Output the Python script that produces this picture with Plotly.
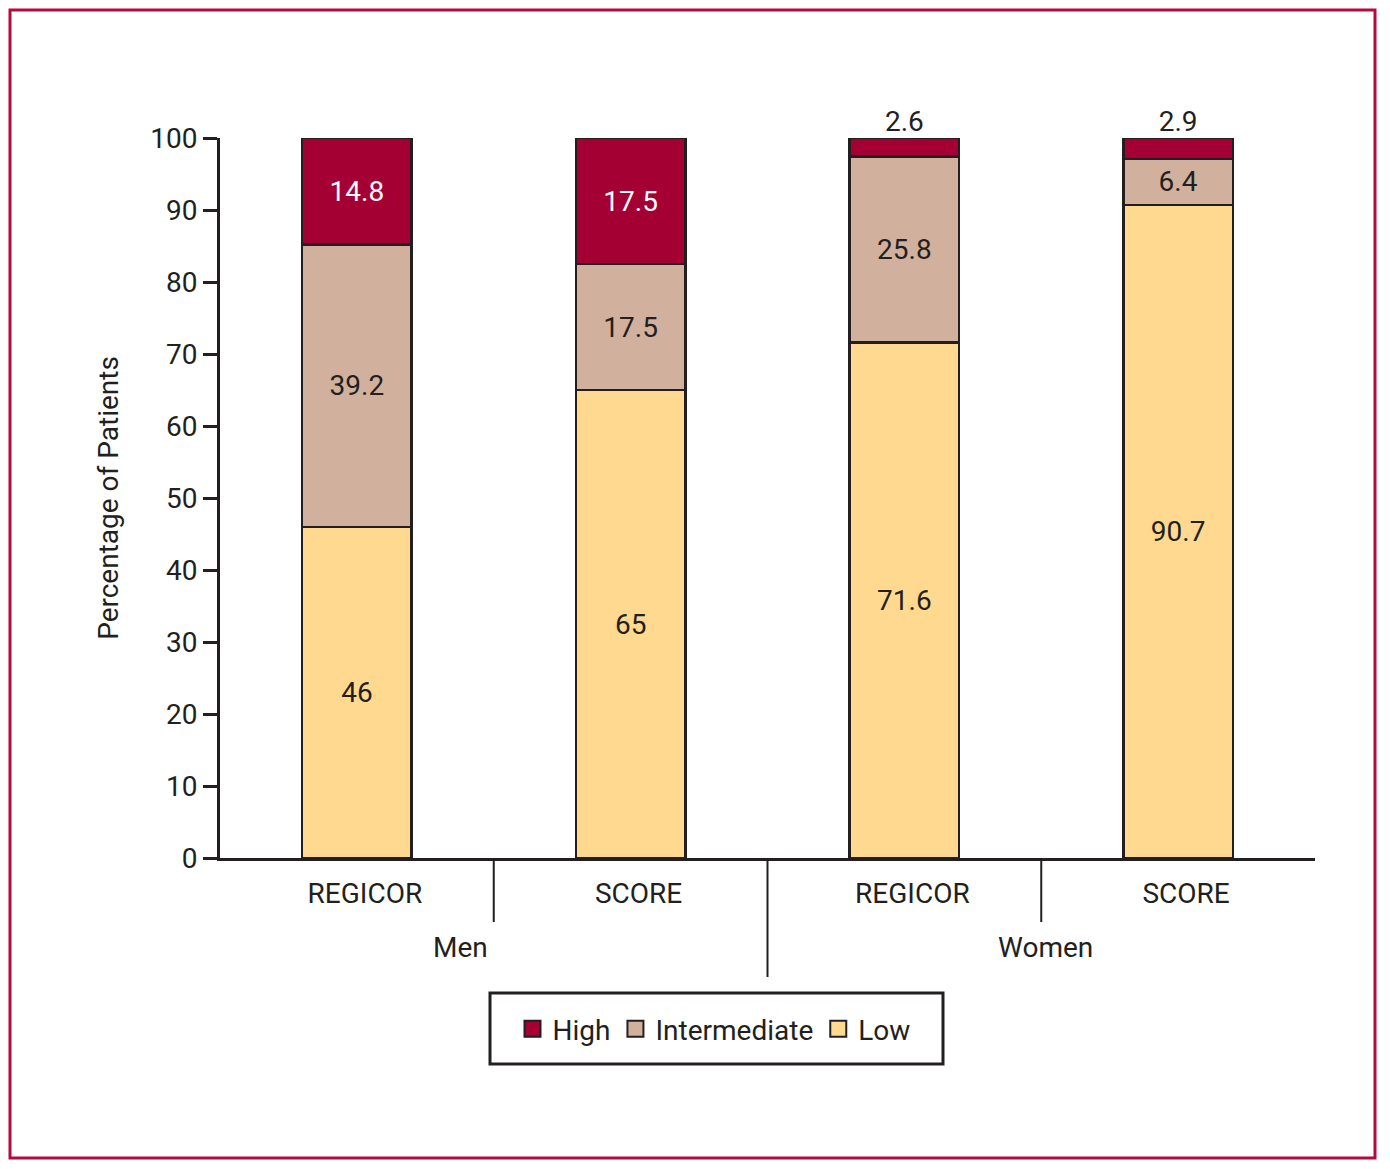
import plotly.graph_objects as go

methods = ["REGICOR", "SCORE", "REGICOR", "SCORE"]
groups = ["Men", "Women"]
low = [46, 65, 71.6, 90.7]
intermediate = [39.2, 17.5, 25.8, 6.4]
high = [14.8, 17.5, 2.6, 2.9]
y_ticks = [0, 10, 20, 30, 40, 50, 60, 70, 80, 90, 100]

FONT = "Roboto, sans-serif"
C_HIGH = "#A50034"
C_INT = "#D1B19D"
C_LOW = "#FFD98F"
EDGE = "#231F20"
TXT = "#231F20"

OFF = 8  # page body margin
W, H = 1390 - OFF, 1169 - OFF
# plot area in page pixels: x 220..1315, y 138..858
L = 220 - OFF
T = 138 - OFF
R = W - (1315 - OFF)
B = H - (858 - OFF)
pw, ph = W - L - R, H - T - B

def px_x(p):  # page px -> paper x
    return (p - OFF - L) / pw

def px_y(p):  # page px -> paper y
    return (H - B - (p - OFF)) / ph

xpos = list(range(len(methods)))
SMALL = 5

fig = go.Figure()
common = dict(width=0.4, marker_line_color=EDGE, marker_line_width=2.5,
              showlegend=False, insidetextanchor="middle", cliponaxis=False,
              constraintext="none", hoverinfo="y")
fig.add_trace(go.Bar(x=xpos, y=low, marker_color=C_LOW, name="Low",
                     text=[f"{v:g}" for v in low], textposition="inside",
                     textfont=dict(family=FONT, size=28, color=TXT), **common))
fig.add_trace(go.Bar(x=xpos, y=intermediate, marker_color=C_INT, name="Intermediate",
                     text=[f"{v:g}" for v in intermediate], textposition="inside",
                     textfont=dict(family=FONT, size=28, color=TXT), **common))
fig.add_trace(go.Bar(x=xpos, y=high, marker_color=C_HIGH, name="High",
                     text=[f"{v:g}" if v > SMALL else "" for v in high],
                     textposition="inside",
                     textfont=dict(family=FONT, size=28, color="white"),
                     **common))
# labels above thin top segments
tops = [round(a + b + c, 6) for a, b, c in zip(low, intermediate, high)]
fig.add_trace(go.Scatter(
    x=[x for x, v in zip(xpos, high) if v <= SMALL],
    y=[t for t, v in zip(tops, high) if v <= SMALL],
    text=[f"{v:g}" for v in high if v <= SMALL],
    mode="text", textposition="top center", showlegend=False, cliponaxis=False,
    textfont=dict(family=FONT, size=28, color=TXT), hoverinfo="skip"))

for nm, col in [("High", C_HIGH), ("Intermediate", C_INT), ("Low", C_LOW)]:
    fig.add_trace(go.Scatter(x=[None], y=[None], mode="markers", name=nm,
                             marker=dict(symbol="square", size=22, color=col,
                                         line=dict(color=EDGE, width=2))))

shapes = []
# category dividers
for xv, y1 in [(0.5, 922), (1.5, 977), (2.5, 922)]:
    shapes.append(dict(type="line", xref="x", yref="paper", x0=xv, x1=xv,
                       y0=0, y1=px_y(y1), line=dict(color=EDGE, width=2)))
# outer crimson frame
shapes.append(dict(type="rect", xref="paper", yref="paper",
                   x0=px_x(10), x1=px_x(1375), y0=px_y(1158), y1=px_y(10),
                   line=dict(color="#B40A3C", width=3), fillcolor="rgba(0,0,0,0)",
                   layer="below"))
# legend frame
shapes.append(dict(type="rect", xref="paper", yref="paper",
                   x0=px_x(490), x1=px_x(943), y0=px_y(1064), y1=px_y(993),
                   line=dict(color=EDGE, width=3), fillcolor="rgba(0,0,0,0)"))

annotations = [
    dict(x=0.5, y=px_y(947), xref="x", yref="paper", text=groups[0], showarrow=False,
         xshift=-33, yanchor="middle", font=dict(family=FONT, size=28, color=TXT)),
    dict(x=2.5, y=px_y(947), xref="x", yref="paper", text=groups[1], showarrow=False,
         xshift=4, yanchor="middle", font=dict(family=FONT, size=28, color=TXT)),
]

fig.update_layout(
    width=W, height=H,
    margin=dict(l=L, r=R, t=T, b=B, pad=0),
    barmode="stack",
    plot_bgcolor="white", paper_bgcolor="white",
    font=dict(family=FONT, size=28, color=TXT),
    shapes=shapes, annotations=annotations,
    showlegend=True,
    legend=dict(orientation="h", x=px_x(714), xanchor="center",
                y=px_y(1029), yanchor="middle", traceorder="normal",
                borderwidth=0, bgcolor="rgba(0,0,0,0)",
                font=dict(family=FONT, size=28, color=TXT),
                itemsizing="trace", itemwidth=30),
    xaxis=dict(range=[-0.5, 3.5], tickvals=xpos, ticktext=methods,
               showline=True, linecolor=EDGE, linewidth=3, ticks="",
               showgrid=False, zeroline=False, ticklabelstandoff=8,
               ticklabelshift=8,
               tickfont=dict(family=FONT, size=28, color=TXT)),
    yaxis=dict(range=[0, 100], tickvals=y_ticks, showline=True, linecolor=EDGE,
               linewidth=3, ticks="outside", ticklen=14, tickwidth=3, tickcolor=EDGE,
               showgrid=False, zeroline=False,
               tickfont=dict(family=FONT, size=28, color=TXT),
               title=dict(text="Percentage of Patients", standoff=24,
                          font=dict(family=FONT, size=28, color=TXT))),
)

fig.write_html("out.html")
